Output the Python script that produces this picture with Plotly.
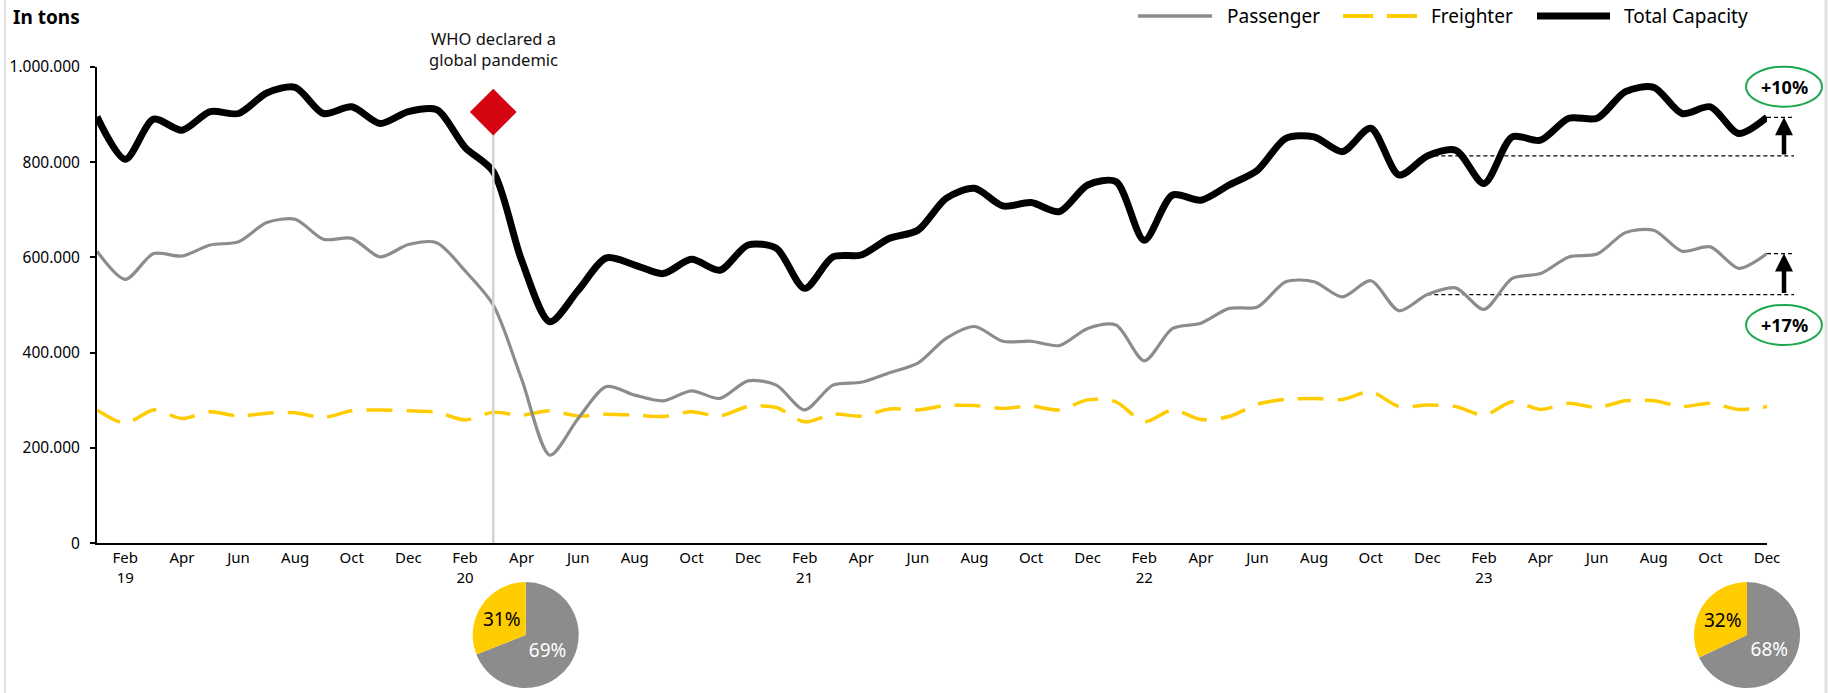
import plotly.graph_objects as go

W, H = 1831, 693


def px(x):
    return x / W


def py(y):
    return 1 - y / H


FONT = "Noto Sans"

# ---------------- data ----------------
years = ["19", "20", "21", "22", "23"]
month_names = ["Jan", "Feb", "Mar", "Apr", "May", "Jun",
               "Jul", "Aug", "Sep", "Oct", "Nov", "Dec"]
months = [f"{m} {y}" for y in years for m in month_names]

total_capacity = [
    895000, 806000, 890000, 867000, 906000, 902000, 945000, 957000, 902000, 916000, 881000, 906000,
    910000, 831000, 780000, 594000, 465000, 531000, 599000, 584000, 566000, 596000, 573000, 626000,
    619000, 535000, 601000, 605000, 640000, 657000, 724000, 745000, 708000, 715000, 696000, 752000,
    759000, 636000, 731000, 720000, 752000, 783000, 850000, 853000, 822000, 871000, 773000, 813000,
    825000, 755000, 853000, 846000, 892000, 892000, 948000, 957000, 902000, 916000, 860000, 894000,
]
passenger = [
    613000, 554000, 608000, 603000, 626000, 633000, 673000, 680000, 638000, 640000, 601000, 627000,
    631000, 572000, 500000, 345000, 185000, 262000, 329000, 311000, 299000, 320000, 304000, 341000,
    332000, 280000, 332000, 338000, 358000, 378000, 430000, 455000, 424000, 424000, 415000, 451000,
    458000, 383000, 451000, 462000, 493000, 496000, 549000, 549000, 517000, 551000, 488000, 522000,
    536000, 491000, 556000, 566000, 601000, 607000, 652000, 657000, 613000, 622000, 577000, 608000,
]
freighter = [
    280000, 252000, 280000, 262000, 276000, 267000, 273000, 274000, 264000, 278000, 280000, 278000,
    275000, 259000, 275000, 269000, 278000, 267000, 271000, 269000, 266000, 276000, 267000, 287000,
    285000, 255000, 271000, 267000, 282000, 280000, 289000, 289000, 283000, 288000, 280000, 301000,
    297000, 255000, 280000, 260000, 266000, 292000, 302000, 304000, 302000, 318000, 287000, 290000,
    287000, 269000, 297000, 281000, 294000, 285000, 299000, 299000, 287000, 294000, 281000, 287000,
]

tick_months = [m for m in months if m.split()[0] in ("Feb", "Apr", "Jun", "Aug", "Oct", "Dec")]
tick_text = [m.replace(" ", "<br>") if m.startswith("Feb") else m.split()[0] for m in tick_months]

y_ticks = [0, 200000, 400000, 600000, 800000, 1000000]

event_month = "Mar 20"
event_marker_value = 905000
event_text = "WHO declared a<br>global pandemic"

compare_from = "Dec 22"
compare_to = "Dec 23"
change_labels = ["+10%", "+17%"]

pie_labels = ["Passenger", "Freighter"]
pie_2020 = [69, 31]
pie_2023 = [68, 32]

# ---------------- styles ----------------
C_PASS = "#8C8C8C"
C_FREI = "#FFCC00"
C_TOT = "#000000"
C_RED = "#D40511"
C_GREEN = "#1DA84F"

XD = [px(97), px(1767)]
YD = [py(543.3), py(66.8)]


def xpaper(label):
    i = months.index(label)
    return XD[0] + (XD[1] - XD[0]) * i / (len(months) - 1)


fig = go.Figure()

fig.add_trace(go.Scatter(x=months, y=freighter, mode="lines", name="Freighter",
                         line=dict(color=C_FREI, width=3.5, dash="26px,14px", shape="spline", smoothing=0.8)))
fig.add_trace(go.Scatter(x=months, y=passenger, mode="lines", name="Passenger",
                         line=dict(color=C_PASS, width=3.2, shape="spline", smoothing=0.8)))
fig.add_trace(go.Scatter(x=months, y=total_capacity, mode="lines", name="Total Capacity",
                         line=dict(color=C_TOT, width=7, shape="spline", smoothing=0.8)))

# event vertical line + diamond
fig.add_trace(go.Scatter(x=[event_month, event_month], y=[0, event_marker_value], mode="lines",
                         line=dict(color="#D3D3D3", width=2.5), hoverinfo="skip"))
fig.add_trace(go.Scatter(x=[event_month], y=[event_marker_value], mode="markers",
                         marker=dict(symbol="diamond", size=36, color=C_RED), cliponaxis=False))

# pies
pie_cy = 635
pie_r = 53
for cx, vals in ((525.7, pie_2020), (1747, pie_2023)):
    fig.add_trace(go.Pie(
        labels=pie_labels, values=vals, sort=False, direction="clockwise", rotation=0,
        marker=dict(colors=[C_PASS, C_FREI], line=dict(width=0)),
        texttemplate="%{value}%", textposition="inside", insidetextorientation="horizontal",
        textfont=dict(family=FONT, size=19, color=["white", "black"]),
        domain=dict(x=[px(cx - pie_r), px(cx + pie_r)], y=[py(pie_cy + pie_r), py(pie_cy - pie_r)]),
        showlegend=False, hoverinfo="label+percent"))

shapes = []
annotations = []

# frame borders
shapes.append(dict(type="line", xref="paper", yref="paper", x0=px(5), x1=px(5), y0=0, y1=1,
                   line=dict(color="#E0E0E0", width=2)))
shapes.append(dict(type="line", xref="paper", yref="paper", x0=px(1826), x1=px(1826), y0=0, y1=1,
                   line=dict(color="#E0E0E0", width=3)))

# legend (custom)
ly = py(16)
leg = [
    (1138, 1212, C_PASS, 3.5, "solid", "Passenger", 1225),
    (1343, 1417, C_FREI, 4, "30px,14px", "Freighter", 1429),
    (1537, 1610, C_TOT, 7, "solid", "Total Capacity", 1622),
]
for x0, x1, col, wd, dsh, txt, tx in leg:
    shapes.append(dict(type="line", xref="paper", yref="paper", x0=px(x0), x1=px(x1), y0=ly, y1=ly,
                       line=dict(color=col, width=wd, dash=dsh)))
    annotations.append(dict(xref="paper", yref="paper", x=px(tx), y=ly, text=txt, showarrow=False,
                            xanchor="left", yanchor="middle", font=dict(family=FONT, size=19, color="#000")))

# change indicators
x_arrow = px(1784)
x_end = px(1794)
for series, lab, ecy in ((total_capacity, change_labels[0], 86.7), (passenger, change_labels[1], 325)):
    v0 = series[months.index(compare_from)]
    v1 = series[months.index(compare_to)]
    shapes.append(dict(type="line", xref="paper", yref="y", x0=xpaper(compare_from), x1=x_end, y0=v0, y1=v0,
                       line=dict(color="#000", width=1.2, dash="4px,3px"), layer="below"))
    shapes.append(dict(type="line", xref="paper", yref="y", x0=xpaper(compare_to), x1=x_end, y0=v1, y1=v1,
                       line=dict(color="#000", width=1.2, dash="4px,3px"), layer="below"))
    annotations.append(dict(xref="paper", yref="y", x=x_arrow, y=v1, axref="pixel", ax=0, ayref="y", ay=v0,
                            text="", showarrow=True, arrowhead=2, arrowsize=0.8, arrowwidth=4.5,
                            arrowcolor="#000", standoff=0, startstandoff=0))
    shapes.append(dict(type="circle", xref="paper", yref="paper",
                       x0=px(1746), x1=px(1822), y0=py(ecy + 20), y1=py(ecy - 20),
                       line=dict(color=C_GREEN, width=2), fillcolor="white"))
    annotations.append(dict(xref="paper", yref="paper", x=px(1784), y=py(ecy), text=f"<b>{lab}</b>",
                            showarrow=False, xanchor="center", yanchor="middle",
                            font=dict(family=FONT, size=18, color="#000")))

# title and event text
annotations.append(dict(xref="paper", yref="paper", x=px(11), y=py(17), text="<b>In tons</b>", showarrow=False,
                        xanchor="left", yanchor="middle", font=dict(family=FONT, size=19, color="#000")))
annotations.append(dict(xref="x", yref="paper", x=event_month, y=py(49), text=event_text, showarrow=False,
                        xanchor="center", yanchor="middle", font=dict(family=FONT, size=16.5, color="#111")))

fig.update_layout(
    width=W, height=H,
    margin=dict(l=0, r=0, t=0, b=0),
    paper_bgcolor="white", plot_bgcolor="white",
    separators=",.",
    showlegend=False,
    shapes=shapes,
    annotations=annotations,
    xaxis=dict(domain=XD, type="category", categoryorder="array", categoryarray=months,
               range=[0, len(months) - 1], tickmode="array", tickvals=tick_months, ticktext=tick_text,
               showline=True, linecolor="#000", linewidth=2, ticks="", showgrid=False, zeroline=False,
               tickfont=dict(family=FONT, size=15, color="#000"), ticklabelstandoff=0, automargin=False),
    yaxis=dict(domain=YD, range=[0, 1000000], tickmode="array", tickvals=y_ticks, tickformat=",.0f",
               showline=True, linecolor="#000", linewidth=2, ticks="outside", ticklen=5, tickwidth=1.5,
               tickcolor="#000", showgrid=False, zeroline=False, ticklabelstandoff=7,
               tickfont=dict(family=FONT, size=15.5, color="#000"), automargin=False),
)

fig.write_html("out.html")
